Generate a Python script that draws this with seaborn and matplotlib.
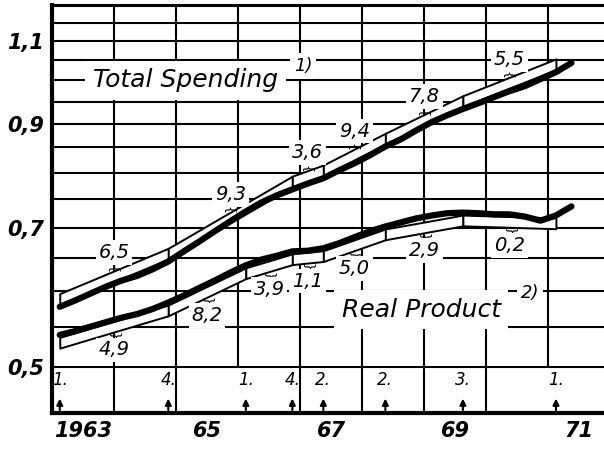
import numpy as np
import pandas as pd
import matplotlib
matplotlib.use("Agg")
import matplotlib.pyplot as plt
import seaborn as sns

# quarterly index values, 1963 Q1 .. 1971 Q2 (log scale)
years = [y for y in range(1963, 1972) for q in range(4)][:34]
qtrs = [q for y in range(1963, 1972) for q in range(1, 5)][:34]
total_spending = [0.578, 0.587, 0.597, 0.607, 0.616, 0.623, 0.633, 0.645,
                  0.661, 0.677, 0.694, 0.711, 0.728, 0.744, 0.757, 0.768,
                  0.779, 0.789, 0.804, 0.818, 0.834, 0.852, 0.867, 0.886,
                  0.904, 0.919, 0.933, 0.946, 0.960, 0.974, 0.986, 1.003,
                  1.020, 1.043]
real_product = [0.540, 0.545, 0.551, 0.557, 0.563, 0.568, 0.575, 0.584,
                0.594, 0.605, 0.616, 0.628, 0.639, 0.648, 0.654, 0.661,
                0.662, 0.666, 0.674, 0.684, 0.694, 0.702, 0.709, 0.716,
                0.721, 0.725, 0.726, 0.725, 0.723, 0.723, 0.719, 0.712,
                0.721, 0.737]

# phase boundaries (quarter index) and growth rates printed on the bands
spending_breaks = [0, 7, 15, 17, 21, 26, 32]
spending_rates = ["6,5", "9,3", "3,6", "9,4", "7,8", "5,5"]
product_breaks = [0, 7, 12, 15, 17, 21, 26, 32]
product_rates = ["4,9", "8,2", "3,9", "1,1", "5,0", "2,9", "0,2"]

# turning points marked along the bottom
turn_years = [1963, 1964, 1966, 1966, 1967, 1968, 1969, 1971]
turn_quarters = [1, 4, 1, 4, 2, 2, 3, 1]

year_ticks = [1963, 1965, 1967, 1969, 1971]
year_labels = ["1963", "65", "67", "69", "71"]
y_ticks = [0.5, 0.7, 0.9, 1.1]
y_labels = ["0,5", "0,7", "0,9", "1,1"]

df = pd.DataFrame({"year": years, "quarter": qtrs,
                   "spending": total_spending, "product": real_product})
df["t"] = df["year"] + (df["quarter"] - 0.5) / 4

sns.set_style("white")
plt.rcParams["font.family"] = ["DejaVu Sans"]
plt.rcParams["font.style"] = "italic"
for key in ["text.color", "xtick.color", "ytick.color", "axes.labelcolor"]:
    plt.rcParams[key] = "black"

fig = plt.figure(figsize=(6.04, 4.49), dpi=100)
ax = fig.add_axes([0.0861, 0.0802, 0.9139, 0.9087])
ax.set_yscale("log")
YMIN, YMAX = 0.447, 1.2
ax.set_xlim(1963, 1971.9)
ax.set_ylim(YMIN, YMAX)

# grid
for v in np.arange(0.5, 1.151, 0.05):
    ax.axhline(v, color="black", lw=1.5, zorder=1)
for yr in range(1964, 1972):
    lo = 0.5 if yr in (1966, 1971) else YMIN
    ax.vlines(yr, lo, YMAX, color="black", lw=1.5, zorder=1)

t = df["t"].to_numpy()


def draw_band(values, breaks, rates, lo, hi, up):
    for a, b, rate in zip(breaks[:-1], breaks[1:], rates):
        xs = [t[a], t[b]]
        base = np.array([values[a], values[b]])
        ax.fill_between(xs, base * np.exp(lo), base * np.exp(hi),
                        facecolor="white", edgecolor="black", lw=1.4, zorder=3)
        xm = (t[a] + t[b]) / 2
        edge = np.sqrt(values[a] * values[b]) * np.exp(hi if up else lo)
        ax.text(xm, edge, "}", rotation=90 if up else -90, fontsize=9,
                ha="center", va="bottom" if up else "top", zorder=4,
                fontstyle="normal")
        ax.annotate(rate, (xm, edge), xytext=(0, 13 if up else -13),
                    textcoords="offset points", ha="center", va="center",
                    fontsize=14, zorder=5,
                    bbox=dict(boxstyle="square,pad=0.15", fc="white", ec="none"))


draw_band(total_spending, spending_breaks, spending_rates, 0.006, 0.032, True)
draw_band(real_product, product_breaks, product_rates, -0.032, -0.006, False)

sns.lineplot(data=df, x="t", y="spending", color="black", lw=4.5, ax=ax,
             zorder=6)
sns.lineplot(data=df, x="t", y="product", color="black", lw=4.5, ax=ax,
             zorder=6)

# series names
ax.text(1963.66, 1.0, "Total Spending", fontsize=18, ha="left", va="center",
        zorder=5, bbox=dict(boxstyle="square,pad=0.3", fc="white", ec="none"))
ax.text(1967.05, 1.035, "1)", fontsize=13, ha="center", va="center", zorder=5,
        bbox=dict(boxstyle="square,pad=0.2", fc="white", ec="none"))
ax.text(1968.95, 0.574, "Real Product", fontsize=18, ha="center", va="center",
        zorder=5, bbox=dict(boxstyle="square,pad=0.3", fc="white", ec="none"))
ax.text(1970.71, 0.597, "2)", fontsize=13, ha="center", va="center", zorder=5,
        bbox=dict(boxstyle="square,pad=0.2", fc="white", ec="none"))

# turning-point markers
for yr, q in zip(turn_years, turn_quarters):
    x = yr + (q - 0.5) / 4
    ax.text(x, 0.484, f"{q}.", fontsize=12, ha="center", va="center")
    ax.annotate("", xy=(x, 0.466), xytext=(x, YMIN),
                arrowprops=dict(arrowstyle="-|>", color="black", lw=1.5,
                                mutation_scale=9))

ax.set_xticks([y + 0.5 for y in year_ticks])
ax.set_xticklabels(year_labels)
ax.set_yticks(y_ticks)
ax.set_yticklabels(y_labels)
ax.yaxis.set_minor_locator(matplotlib.ticker.NullLocator())
ax.tick_params(length=0, labelsize=15, pad=6)
for lab in ax.get_xticklabels() + ax.get_yticklabels():
    lab.set_fontweight("bold")
ax.set_xlabel("")
ax.set_ylabel("")

ax.spines["right"].set_visible(False)
for side, w in [("left", 3), ("bottom", 3), ("top", 2.2)]:
    ax.spines[side].set_color("black")
    ax.spines[side].set_linewidth(w)
    ax.spines[side].set_zorder(7)

fig.savefig("out.png", dpi=100, facecolor="white")
